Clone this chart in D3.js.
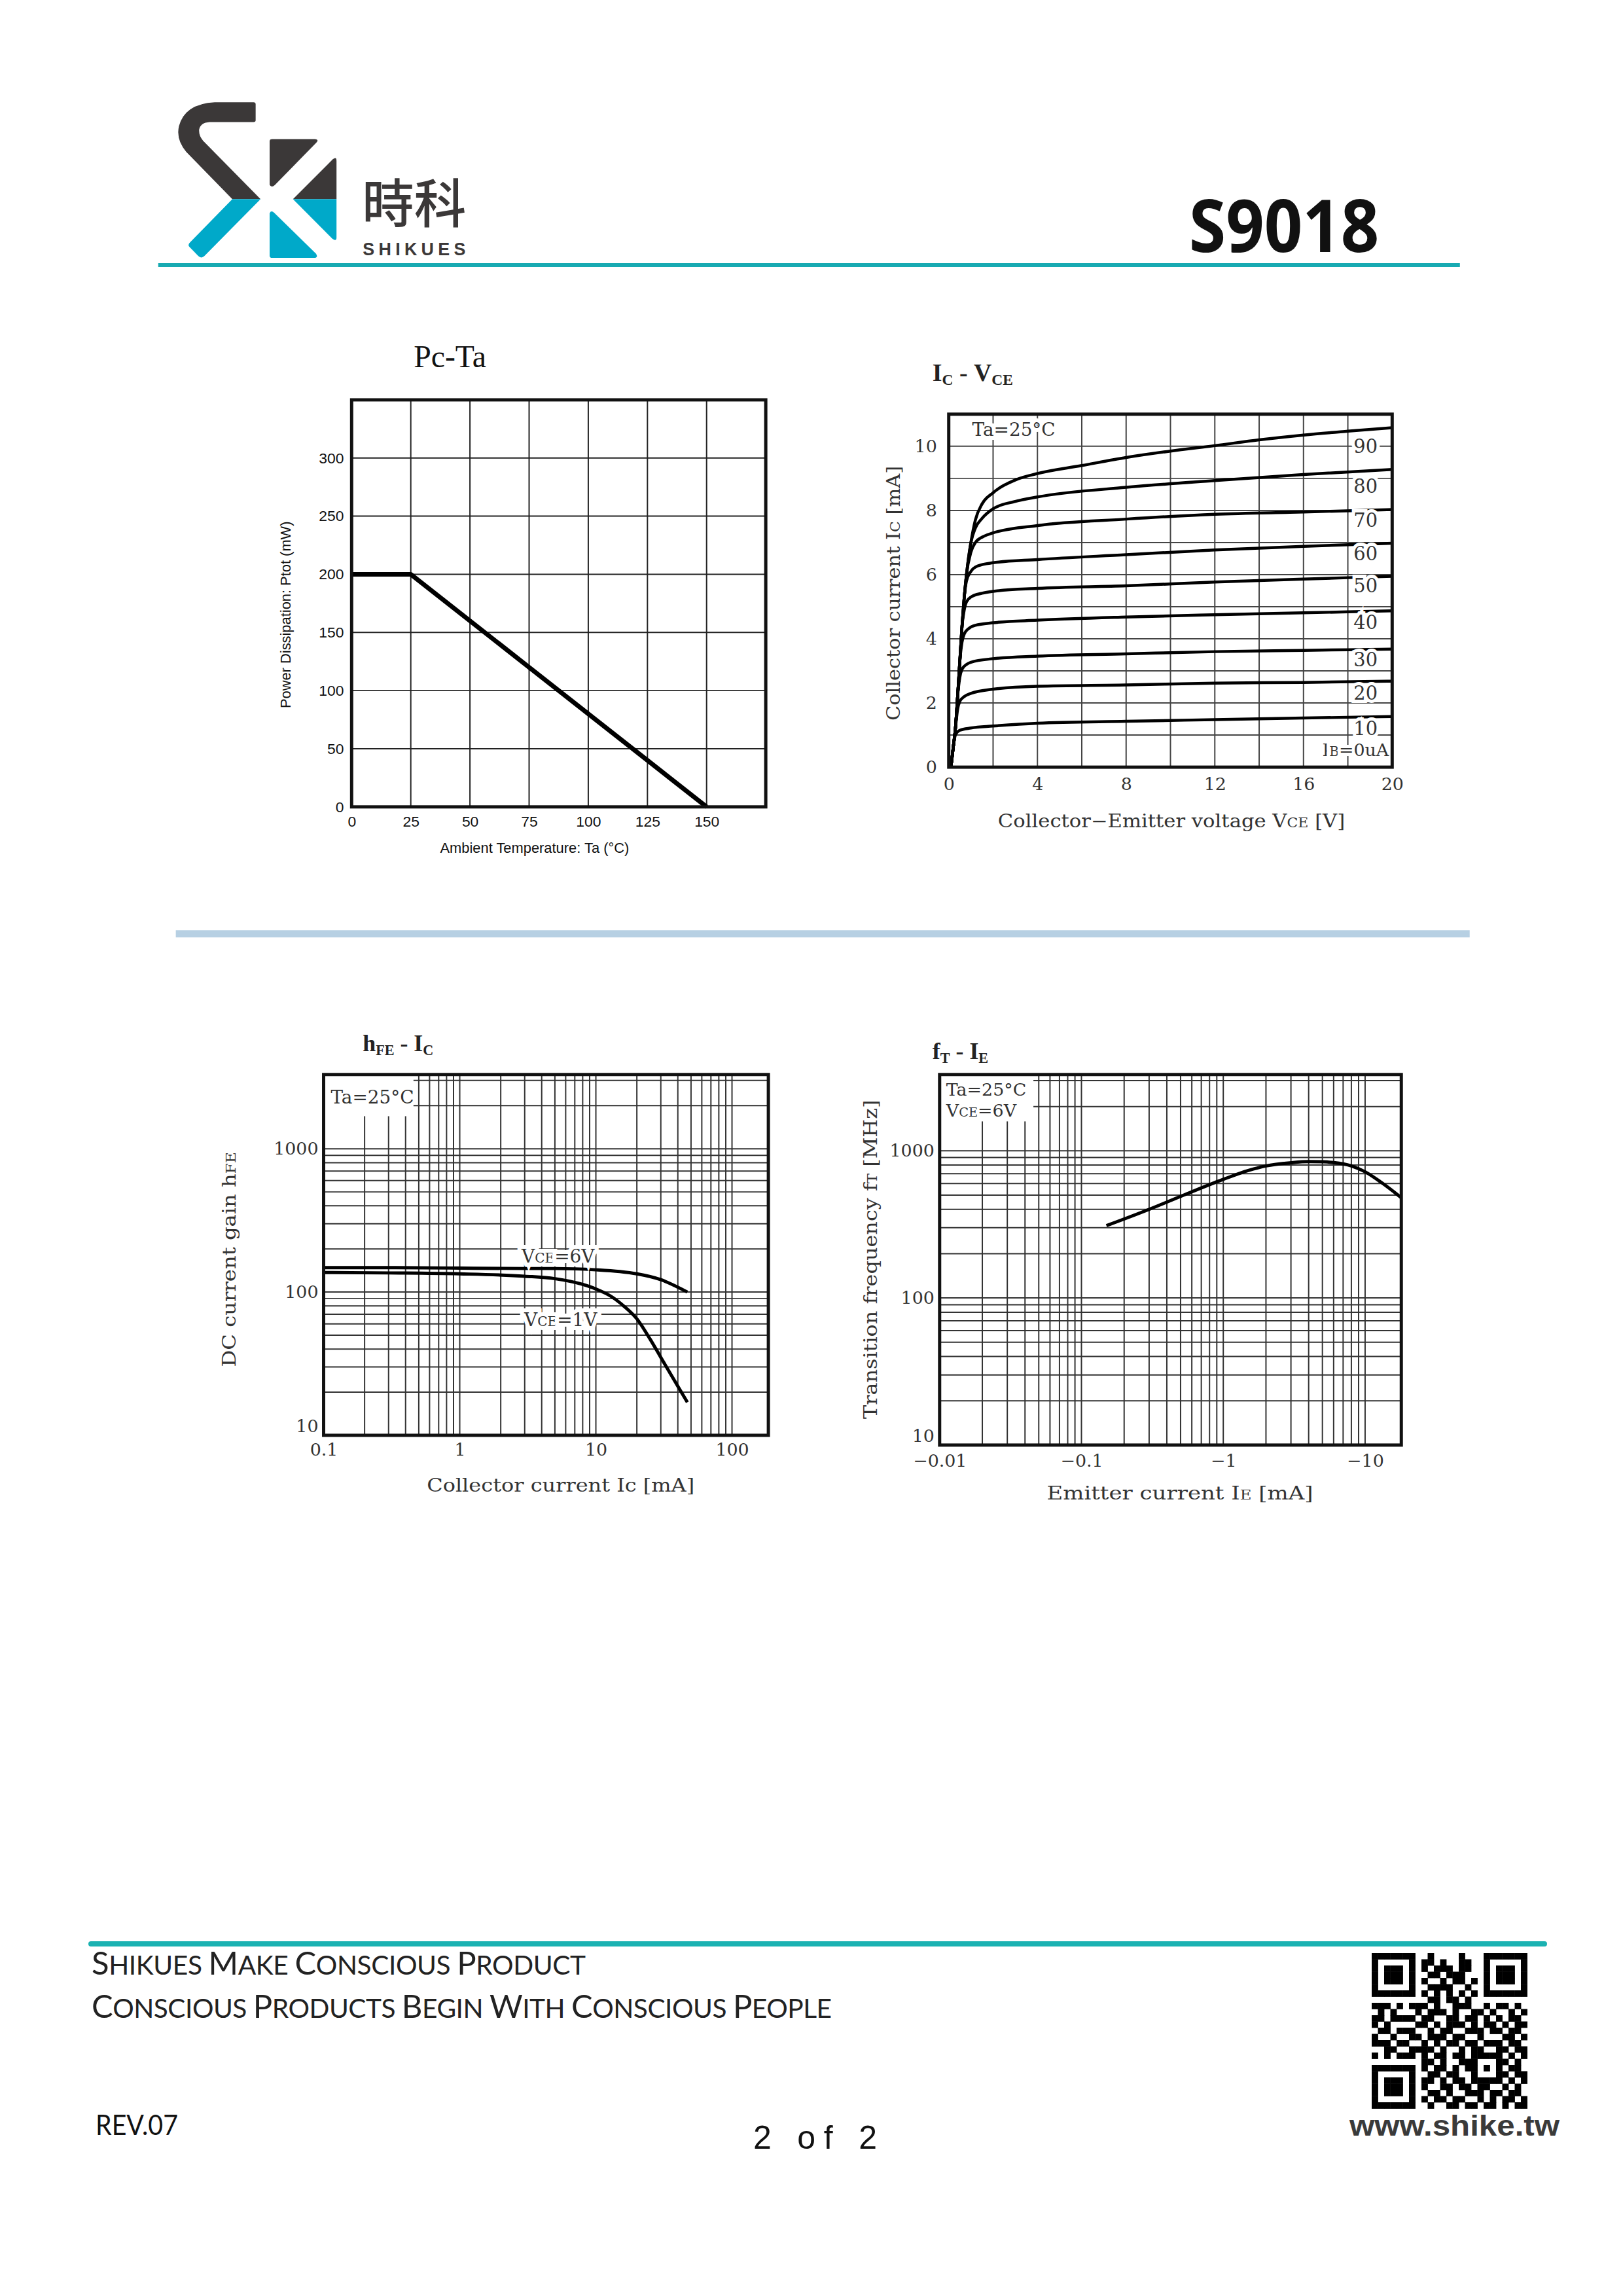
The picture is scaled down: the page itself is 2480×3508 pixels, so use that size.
<!DOCTYPE html>
<html>
<head>
<meta charset="utf-8">
<script src="https://cdn.jsdelivr.net/npm/d3@7"></script>
<style>
  body { margin: 0; background: #fff; }
  svg { display: block; }
</style>
</head>
<body>
<script>
// ---------------- data ----------------
// Pc-Ta derating
var pcTemp = [0, 25, 150];
var pcPower = [200, 200, 0];
var pcXTicks = [0, 25, 50, 75, 100, 125, 150];
var pcYTicks = [0, 50, 100, 150, 200, 250, 300];

// Ic-Vce output curves, [VCE (V), IC (mA)] per base current
var ib10 = [[0.1,0],[0.2,0.6],[0.3,1.0],[0.5,1.15],[1,1.22],[2,1.28],[4,1.37],[8,1.43],[12,1.48],[16,1.53],[20,1.58]];
var ib20 = [[0.1,0],[0.2,0.6],[0.3,1.2],[0.4,1.8],[0.5,2.05],[0.7,2.2],[1,2.3],[2,2.43],[4,2.52],[8,2.56],[12,2.62],[16,2.64],[20,2.68]];
var ib30 = [[0.1,0],[0.2,0.6],[0.3,1.2],[0.4,2.2],[0.5,2.8],[0.6,3.05],[0.8,3.2],[1,3.27],[2,3.38],[4,3.46],[8,3.53],[12,3.6],[16,3.64],[20,3.68]];
var ib40 = [[0.1,0],[0.2,0.6],[0.3,1.2],[0.4,2.2],[0.5,3.3],[0.6,3.9],[0.7,4.15],[0.9,4.32],[1.2,4.42],[2,4.5],[4,4.58],[8,4.68],[12,4.75],[16,4.81],[20,4.87]];
var ib50 = [[0.1,0],[0.2,0.6],[0.3,1.2],[0.4,2.2],[0.5,3.3],[0.6,4.4],[0.7,4.9],[0.8,5.15],[1,5.3],[1.5,5.42],[2,5.48],[4,5.57],[8,5.65],[12,5.77],[16,5.86],[20,5.95]];
var ib60 = [[0.1,0],[0.2,0.6],[0.3,1.2],[0.4,2.2],[0.5,3.3],[0.6,4.4],[0.7,5.3],[0.8,5.8],[1,6.1],[1.3,6.27],[2,6.37],[4,6.47],[8,6.62],[12,6.77],[16,6.88],[20,6.98]];
var ib70 = [[0.1,0],[0.2,0.6],[0.3,1.2],[0.4,2.2],[0.5,3.3],[0.6,4.4],[0.7,5.3],[0.8,6.0],[1,6.7],[1.2,7.0],[1.6,7.2],[2,7.3],[4,7.53],[8,7.73],[12,7.88],[16,7.95],[20,8.03]];
var ib80 = [[0.1,0],[0.2,0.6],[0.3,1.2],[0.4,2.2],[0.5,3.3],[0.6,4.4],[0.7,5.3],[0.8,6.0],[1,7.0],[1.2,7.45],[1.5,7.75],[2,8.05],[3,8.28],[4,8.42],[8,8.72],[12,8.93],[16,9.12],[20,9.28]];
var ib90 = [[0.1,0],[0.2,0.6],[0.3,1.2],[0.4,2.2],[0.5,3.3],[0.6,4.4],[0.7,5.3],[0.8,6.0],[1,7.0],[1.2,7.7],[1.5,8.2],[2,8.55],[3,8.95],[4,9.15],[6,9.4],[8,9.65],[10,9.85],[12,10.02],[14,10.2],[16,10.35],[18,10.47],[20,10.58]];
var ibCurves = [ib10, ib20, ib30, ib40, ib50, ib60, ib70, ib80, ib90];
var ibNames = ["10", "20", "30", "40", "50", "60", "70", "80", "90"];
var ibLabelAt = [1.2, 2.3, 3.35, 4.5, 5.65, 6.65, 7.7, 8.75, 10.0];
var icXTicks = [0, 4, 8, 12, 16, 20];
var icXGrid = [2, 4, 6, 8, 10, 12, 14, 16, 18];
var icYTicks = [0, 2, 4, 6, 8, 10];
var icYGrid = [1, 2, 3, 4, 5, 6, 7, 8, 9, 10];

// hFE-Ic
var hfeIc6 = [0.1, 0.3, 1, 3, 5, 10, 15, 20, 30, 47];
var hfe6 = [148, 148, 147, 146, 146, 143, 139, 134, 122, 100];
var hfeIc1 = [0.1, 0.3, 1, 3, 5, 8, 10, 13, 16, 20, 25, 30, 40, 47];
var hfe1 = [137, 136, 134, 129, 124, 113, 105, 93, 80, 65, 47, 35, 22, 17];
var hfeXTicks = [0.1, 1, 10, 100];
var hfeYTicks = [10, 100, 1000];

// fT-IE (|IE| in mA)
var ftIe = [0.15, 0.3, 0.5, 1, 1.5, 2, 3, 4, 5, 6, 8, 10, 13, 18];
var ftVal = [310, 400, 490, 640, 735, 790, 830, 845, 842, 832, 790, 720, 610, 480];
var ftXTicks = [0.01, 0.1, 1, 10];
var ftYTicks = [10, 100, 1000];

// QR modules
var qrRows = [
  "1111111001000010001111111",
  "1000001011010011001000001",
  "1011101010111011001011101",
  "1011101001101110001011101",
  "1011101010010110101011101",
  "1000001001111001001000001",
  "1111111010101010101111111",
  "0000000001101101000000000",
  "1110101110100111001011010",
  "0101000101110100110100101",
  "1101111011001101101010110",
  "1010000110101110101101011",
  "0110111001011001110110110",
  "1001001101110110010001101",
  "1110110010101101101110110",
  "0011001111010010110011011",
  "1010111010110110111110101",
  "0000000011010011100011010",
  "1111111010110101101010110",
  "1000001001101100100011011",
  "1011101011010110111110101",
  "1011101010011011011001010",
  "1011101001101001110110110",
  "1000001010110110010101101",
  "1111111001001101101101011"
];

// ---------------- page ----------------
var W = 2480, H = 3508;
var SANS = "'Liberation Sans', Arial, sans-serif";
var SERIF = "'Liberation Serif', 'Times New Roman', serif";
var JP = "'DejaVu Serif', serif";
var HUMAN = "Lato, 'Open Sans', sans-serif";

var svg = d3.select("body").append("svg")
    .attr("width", W)
    .attr("height", H)
    .attr("viewBox", "0 0 " + W + " " + H);

svg.append("rect").attr("width", W).attr("height", H).attr("fill", "#fff");

var defs = svg.append("defs");

// header and charts were laid out from a slightly larger read-off, pulled back here
var page = svg.append("g").attr("transform", "scale(0.995)");

// ---------------- header ----------------
var DARK = "#3b3838", BLUE = "#00a9c9", TEAL = "#17aab2";

defs.append("clipPath").attr("id", "logoTop")
  .append("rect").attr("x", 0).attr("y", 0).attr("width", 900).attr("height", 517);
defs.append("clipPath").attr("id", "logoBot")
  .append("rect").attr("x", 0).attr("y", 517).attr("width", 900).attr("height", 400);

// logo drawn in its own unit box, then fitted to the page
var logo = page.append("g")
    .attr("transform", "translate(274,157) scale(0.398,0.343) translate(-120,-83)");

var sBand = "M260,83 L410,83 Q418,83 418,92 L418,164 Q418,172 410,172 L240,172 Q205,175 200,205 " +
            "Q198,232 215,255 L437,517 L220,772 Q208,784 197,772 L162,730 Q155,720 165,710 L328,517 " +
            "L150,305 Q110,250 122,190 Q145,90 260,83 Z";
var kWedge = "M562,517 L716,338 Q730,325 730,345 L730,688 Q730,708 714,694 Z";
var kTop = "M472,258 Q472,248 482,248 L646,248 Q664,250 652,264 L492,454 Q478,468 472,452 Z";
var kBot = "M472,582 Q476,564 490,578 L650,760 Q662,780 642,780 L482,780 Q472,780 472,770 Z";

[["logoTop", DARK], ["logoBot", BLUE]].forEach(function(p) {
  var gg = logo.append("g").attr("clip-path", "url(#" + p[0] + ")").attr("fill", p[1]);
  gg.append("path").attr("d", sBand);
  gg.append("path").attr("d", kWedge);
});
logo.append("path").attr("d", kTop).attr("fill", DARK);
logo.append("path").attr("d", kBot).attr("fill", BLUE);

page.append("text")
    .attr("x", 556).attr("y", 342)
    .attr("font-family", "'Noto Sans CJK TC', 'Noto Sans CJK SC', sans-serif")
    .attr("font-size", 80)
    .attr("font-weight", 500)
    .attr("fill", DARK)
    .attr("textLength", 160)
    .text("時科");

page.append("text")
    .attr("x", 557).attr("y", 392)
    .attr("font-family", SANS)
    .attr("font-size", 27)
    .attr("font-weight", 700)
    .attr("fill", DARK)
    .attr("textLength", 158)
    .attr("lengthAdjust", "spacing")
    .text("SHIKUES");

page.append("line")
    .attr("x1", 243).attr("x2", 2242)
    .attr("y1", 407).attr("y2", 407)
    .attr("stroke", TEAL).attr("stroke-width", 6);

page.append("text")
    .attr("x", 2118).attr("y", 387)
    .attr("text-anchor", "end")
    .attr("font-family", "'Open Sans', sans-serif")
    .attr("font-size", 112)
    .attr("font-weight", 700)
    .attr("fill", "#111")
    .attr("textLength", 292)
    .attr("lengthAdjust", "spacingAndGlyphs")
    .text("S9018");

// separator between chart rows
page.append("line")
    .attr("x1", 270).attr("x2", 2257)
    .attr("y1", 1434).attr("y2", 1434)
    .attr("stroke", "#b7d0e3").attr("stroke-width", 11);

// ---------------- helpers ----------------
function frame(g, box, x, y, xGrid, yGrid, gridColor) {
  g.selectAll(null).data(xGrid).enter().append("line")
      .attr("x1", function(d) { return x(d); })
      .attr("x2", function(d) { return x(d); })
      .attr("y1", box.y0).attr("y2", box.y1)
      .attr("stroke", gridColor).attr("stroke-width", 2);
  g.selectAll(null).data(yGrid).enter().append("line")
      .attr("y1", function(d) { return y(d); })
      .attr("y2", function(d) { return y(d); })
      .attr("x1", box.x0).attr("x2", box.x1)
      .attr("stroke", gridColor).attr("stroke-width", 2);
}

function border(g, box) {
  g.append("rect")
      .attr("x", box.x0).attr("y", box.y0)
      .attr("width", box.x1 - box.x0).attr("height", box.y1 - box.y0)
      .attr("fill", "none").attr("stroke", "#111").attr("stroke-width", 5);
}

function styleAxis(a, family, size, color) {
  a.select(".domain").remove();
  a.attr("font-family", family).attr("font-size", size);
  a.selectAll("text").attr("fill", color);
}

// text built from parts: [[text, scale, dy], ...]
function richText(g, x, y, size, family, parts, opts) {
  var t = g.append("text")
      .attr("x", x).attr("y", y)
      .attr("font-family", family)
      .attr("font-size", size)
      .attr("fill", opts.fill || "#333");
  if (opts.anchor) t.attr("text-anchor", opts.anchor);
  if (opts.weight) t.attr("font-weight", opts.weight);
  if (opts.rotate) t.attr("transform", "rotate(-90," + x + "," + y + ")");
  if (opts.length) t.attr("textLength", opts.length).attr("lengthAdjust", opts.adjust || "spacingAndGlyphs");
  if (opts.halo) t.attr("stroke", "#fff").attr("stroke-width", opts.halo).attr("paint-order", "stroke");
  parts.forEach(function(p) {
    var s = t.append("tspan").attr("font-size", size * (p[1] || 1)).text(p[0]);
    if (p[2]) s.attr("dy", p[2]);
  });
  return t;
}

// ---------------- Pc-Ta ----------------
(function() {
  var box = {x0: 540, x1: 1176, y0: 614, y1: 1239};
  var x = d3.scaleLinear().domain([0, 175]).range([box.x0, box.x1]);
  var y = d3.scaleLinear().domain([0, 350]).range([box.y1, box.y0]);
  var g = page.append("g");

  frame(g, box, x, y, pcXTicks.slice(1), pcYTicks.slice(1), "#222");

  g.append("path")
      .datum(pcTemp.map(function(t, i) { return [t, pcPower[i]]; }))
      .attr("fill", "none").attr("stroke", "#000").attr("stroke-width", 7)
      .attr("stroke-linejoin", "round")
      .attr("d", d3.line().x(function(d) { return x(d[0]); }).y(function(d) { return y(d[1]); }));

  border(g, box);

  g.append("g").attr("transform", "translate(0," + box.y1 + ")")
      .call(d3.axisBottom(x).tickValues(pcXTicks).tickSize(0).tickPadding(14))
      .call(styleAxis, SANS, 23, "#111");
  g.append("g").attr("transform", "translate(" + box.x0 + ",0)")
      .call(d3.axisLeft(y).tickValues(pcYTicks).tickSize(0).tickPadding(12))
      .call(styleAxis, SANS, 23, "#111");

  g.append("text")
      .attr("x", 691).attr("y", 564)
      .attr("text-anchor", "middle")
      .attr("font-family", SERIF).attr("font-size", 48).attr("fill", "#111")
      .text("Pc-Ta");
  g.append("text")
      .attr("x", 821).attr("y", 1310)
      .attr("text-anchor", "middle")
      .attr("font-family", SANS).attr("font-size", 22).attr("fill", "#111")
      .text("Ambient Temperature: Ta (°C)");
  g.append("text")
      .attr("transform", "translate(446,944) rotate(-90)")
      .attr("text-anchor", "middle")
      .attr("font-family", SANS).attr("font-size", 22).attr("fill", "#111")
      .text("Power Dissipation: Ptot (mW)");
})();

// ---------------- Ic-Vce ----------------
(function() {
  var box = {x0: 1457, x1: 2138, y0: 636, y1: 1178};
  var x = d3.scaleLinear().domain([0, 20]).range([box.x0, box.x1]);
  var y = d3.scaleLinear().domain([0, 11]).range([box.y1, box.y0]);
  var g = page.append("g");

  defs.append("clipPath").attr("id", "icClip").append("rect")
      .attr("x", box.x0).attr("y", box.y0)
      .attr("width", box.x1 - box.x0).attr("height", box.y1 - box.y0);

  frame(g, box, x, y, icXGrid, icYGrid, "#444");

  var line = d3.line()
      .x(function(d) { return x(d[0]); })
      .y(function(d) { return y(d[1]); })
      .curve(d3.curveMonotoneX);

  g.append("g").attr("clip-path", "url(#icClip)")
    .selectAll("path").data(ibCurves).enter().append("path")
      .attr("fill", "none").attr("stroke", "#000").attr("stroke-width", 4.5)
      .attr("d", line);

  ibNames.forEach(function(n, i) {
    richText(g, x(18.8), y(ibLabelAt[i]) + 10, 29, JP, [[n]],
             {anchor: "middle", fill: "#333", halo: 10});
  });
  richText(g, x(19.85), y(0.55) + 10, 27, JP, [["I"], ["B", 0.75], ["=0uA"]],
           {anchor: "end", fill: "#333", halo: 10});
  richText(g, 1493, 669, 28, JP, [["Ta=25°C"]], {fill: "#333", halo: 12});

  border(g, box);

  g.append("g").attr("transform", "translate(0," + box.y1 + ")")
      .call(d3.axisBottom(x).tickValues(icXTicks).tickSize(0).tickPadding(16))
      .call(styleAxis, JP, 27, "#333");
  g.append("g").attr("transform", "translate(" + box.x0 + ",0)")
      .call(d3.axisLeft(y).tickValues(icYTicks).tickSize(0).tickPadding(18))
      .call(styleAxis, JP, 27, "#333");

  richText(g, 1432, 585, 38, SERIF, [["I"], ["C", 0.62, 6], [" - ", 1, -6], ["V"], ["CE", 0.62, 6]],
           {weight: 700, fill: "#222"});
  richText(g, 1799, 1270, 28, JP,
           [["Collector−Emitter  voltage  V"], ["CE", 0.72], ["  [V]"]],
           {anchor: "middle", length: 533});
  richText(g, 1382, 911, 28, JP,
           [["Collector  current  I"], ["C", 0.72], ["  [mA]"]],
           {anchor: "middle", rotate: true, length: 391});
})();

// ---------------- hFE-Ic ----------------
(function() {
  var box = {x0: 497, x1: 1180, y0: 1650, y1: 2204};
  var x = d3.scaleLog().domain([0.1, 185]).range([box.x0, box.x1]);
  var y = d3.scaleLog().domain([10, 3300]).range([box.y1, box.y0]);
  var g = page.append("g");

  frame(g, box, x, y, x.ticks(), y.ticks(), "#333");

  g.append("rect").attr("x", box.x0).attr("y", box.y0)
      .attr("width", 138).attr("height", 64).attr("fill", "#fff");

  var line = d3.line().curve(d3.curveMonotoneX);
  g.append("path")
      .datum(hfeIc6.map(function(c, i) { return [x(c), y(hfe6[i])]; }))
      .attr("fill", "none").attr("stroke", "#000").attr("stroke-width", 5).attr("d", line);
  g.append("path")
      .datum(hfeIc1.map(function(c, i) { return [x(c), y(hfe1[i])]; }))
      .attr("fill", "none").attr("stroke", "#000").attr("stroke-width", 5).attr("d", line);

  richText(g, 508, 1694, 28, JP, [["Ta=25°C"]], {fill: "#333"});
  richText(g, 857, 1939, 28, JP, [["V"], ["CE", 0.72], ["=6V"]], {anchor: "middle", halo: 12});
  richText(g, 861, 2036, 28, JP, [["V"], ["CE", 0.72], ["=1V"]], {anchor: "middle", halo: 12});

  border(g, box);

  g.append("g").attr("transform", "translate(0," + box.y1 + ")")
      .call(d3.axisBottom(x).tickValues(hfeXTicks).tickFormat(d3.format("~g")).tickSize(0).tickPadding(12))
      .call(styleAxis, JP, 27, "#333");
  g.append("g").attr("transform", "translate(" + (box.x0 - 2) + ",0)")
      .call(d3.axisLeft(y).tickValues(hfeYTicks).tickFormat(d3.format("~g")).tickSize(0).tickPadding(6))
      .call(styleAxis, JP, 27, "#333")
      .selectAll(".tick text").filter(function(d) { return d === 10; }).attr("dy", "-0.2em");

  richText(g, 557, 1614, 36, SERIF, [["h"], ["FE", 0.62, 6], [" - ", 1, -6], ["I"], ["C", 0.62, 6]],
           {weight: 700, fill: "#222"});
  richText(g, 861, 2290, 28, JP,
           [["Collector  current  I"], ["c", 1], ["  [mA]"]],
           {anchor: "middle", length: 411});
  richText(g, 362, 1934, 28, JP,
           [["DC  current  gain  h"], ["FE", 0.72]],
           {anchor: "middle", rotate: true, length: 330});
})();

// ---------------- fT-IE ----------------
(function() {
  var box = {x0: 1443, x1: 2152, y0: 1650, y1: 2219};
  var x = d3.scaleLog().domain([0.01, 18]).range([box.x0, box.x1]);
  var y = d3.scaleLog().domain([10, 3300]).range([box.y1, box.y0]);
  var g = page.append("g");

  frame(g, box, x, y, x.ticks(), y.ticks(), "#333");

  g.append("rect").attr("x", box.x0).attr("y", box.y0)
      .attr("width", 144).attr("height", 72).attr("fill", "#fff");

  g.append("path")
      .datum(ftIe.map(function(c, i) { return [x(c), y(ftVal[i])]; }))
      .attr("fill", "none").attr("stroke", "#000").attr("stroke-width", 5)
      .attr("d", d3.line().curve(d3.curveMonotoneX));

  richText(g, 1453, 1682, 27, JP, [["Ta=25°C"]], {fill: "#333"});
  richText(g, 1453, 1715, 27, JP, [["V"], ["CE", 0.72], ["=6V"]], {fill: "#333"});

  border(g, box);

  g.append("g").attr("transform", "translate(0," + box.y1 + ")")
      .call(d3.axisBottom(x).tickValues(ftXTicks)
            .tickFormat(function(d) { return "\u2212" + d3.format("~g")(d); })
            .tickSize(0).tickPadding(14))
      .call(styleAxis, JP, 27, "#333");
  g.append("g").attr("transform", "translate(" + (box.x0 - 4) + ",0)")
      .call(d3.axisLeft(y).tickValues(ftYTicks).tickFormat(d3.format("~g")).tickSize(0).tickPadding(4))
      .call(styleAxis, JP, 27, "#333")
      .selectAll(".tick text").filter(function(d) { return d === 10; }).attr("dy", "-0.2em");

  richText(g, 1432, 1626, 36, SERIF, [["f"], ["T", 0.62, 6], [" - ", 1, -6], ["I"], ["E", 0.62, 6]],
           {weight: 700, fill: "#222"});
  richText(g, 1812, 2303, 28, JP,
           [["Emitter  current  I"], ["E", 0.72], ["  [mA]"]],
           {anchor: "middle", length: 409});
  richText(g, 1347, 1934, 28, JP,
           [["Transition  frequency  f"], ["T", 0.72], ["  [MHz]"]],
           {anchor: "middle", rotate: true, length: 490});
})();

// ---------------- footer ----------------
svg.append("line")
    .attr("x1", 139).attr("x2", 2360)
    .attr("y1", 2970).attr("y2", 2970)
    .attr("stroke", "#1bb2b2").attr("stroke-width", 8)
    .attr("stroke-linecap", "round");

function smallCaps(str) {
  return str.split("").map(function(ch) {
    var up = ch === ch.toUpperCase() && ch !== " ";
    return [ch.toUpperCase(), up ? 1 : 0.83];
  });
}
richText(svg, 140, 3017, 49, HUMAN, smallCaps("Shikues Make Conscious Product"),
         {fill: "#222", length: 755, adjust: "spacing"});
richText(svg, 140, 3083, 49, HUMAN, smallCaps("Conscious Products Begin With Conscious People"),
         {fill: "#222", length: 1131, adjust: "spacing"});

svg.append("text")
    .attr("x", 146).attr("y", 3262)
    .attr("font-family", HUMAN).attr("font-size", 42).attr("fill", "#111")
    .attr("textLength", 126).attr("lengthAdjust", "spacingAndGlyphs")
    .text("REV.07");

svg.append("text")
    .attr("x", 1151).attr("y", 3283)
    .attr("font-family", SANS).attr("font-size", 50).attr("fill", "#111")
    .attr("textLength", 189).attr("lengthAdjust", "spacing")
    .text("2 of 2");

var qr = svg.append("g").attr("transform", "translate(2096,2984)");
var mod = 9.5;
qrRows.forEach(function(row, r) {
  row.split("").forEach(function(b, c) {
    if (b === "1") {
      qr.append("rect")
          .attr("x", c * mod).attr("y", r * mod)
          .attr("width", mod + 0.4).attr("height", mod + 0.4)
          .attr("fill", "#000");
    }
  });
});

svg.append("text")
    .attr("x", 2062).attr("y", 3263)
    .attr("font-family", SANS).attr("font-size", 45).attr("font-weight", 700).attr("fill", "#3a3a3a")
    .attr("textLength", 321).attr("lengthAdjust", "spacingAndGlyphs")
    .text("www.shike.tw");
</script>
</body>
</html>
